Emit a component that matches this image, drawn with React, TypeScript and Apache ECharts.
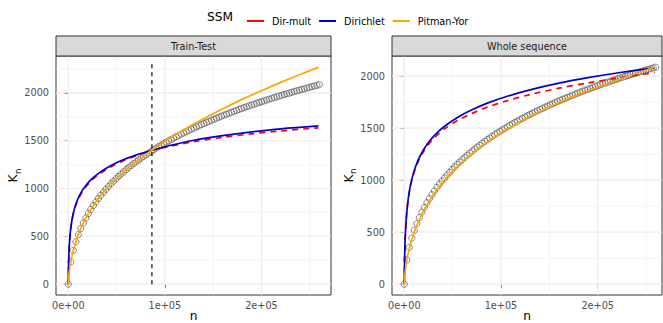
import React, { useEffect, useRef } from "react";
import * as echarts from "echarts";

const FONT = "DejaVu Sans";

// Observed K_n (circles)
const obsN = [
  0, 2600, 5200, 7800, 10400, 13000, 15600, 18200, 20800, 23400, 26000, 28600, 31200, 33800, 36400, 39000, 41600,
  44200, 46800, 49400, 52000, 54600, 57200, 59800, 62400, 65000, 67600, 70200, 72800, 75400, 78000, 80600, 83200,
  85800, 88400, 91000, 93600, 96200, 98800, 101400, 104000, 106600, 109200, 111800, 114400, 117000, 119600, 122200,
  124800, 127400, 130000, 132600, 135200, 137800, 140400, 143000, 145600, 148200, 150800, 153400, 156000, 158600,
  161200, 163800, 166400, 169000, 171600, 174200, 176800, 179400, 182000, 184600, 187200, 189800, 192400, 195000,
  197600, 200200, 202800, 205400, 208000, 210600, 213200, 215800, 218400, 221000, 223600, 226200, 228800, 231400,
  234000, 236600, 239200, 241800, 244400, 247000, 249600, 252200, 254800, 257400, 260000,
];
const obsK = [
  0, 233, 353, 443, 518, 583, 640, 691, 738, 782, 822, 860, 896, 930, 962, 992, 1021, 1049, 1076, 1102, 1127, 1151,
  1174, 1196, 1218, 1239, 1260, 1279, 1299, 1318, 1336, 1354, 1371, 1389, 1405, 1422, 1438, 1453, 1469, 1484, 1498,
  1513, 1527, 1541, 1555, 1568, 1581, 1594, 1607, 1620, 1632, 1644, 1656, 1668, 1680, 1691, 1702, 1713, 1724, 1735,
  1746, 1757, 1767, 1777, 1787, 1797, 1807, 1817, 1827, 1836, 1846, 1855, 1864, 1873, 1882, 1891, 1900, 1908, 1917,
  1926, 1934, 1942, 1951, 1959, 1967, 1975, 1983, 1991, 1998, 2006, 2014, 2021, 2029, 2036, 2043, 2051, 2058, 2065,
  2072, 2079, 2086,
];

// Dirichlet / Dir-mult curves
const dirN = [0, 200, 500, 1000, 2000, 3500, 5500, 8000, 12000, 17000, 24000, 32000, 42000, 55000, 70000, 86600, 105000, 130000, 160000, 190000, 220000, 259000];
const dirichletTrain = [0, 145, 269, 392, 532, 654, 755, 841, 935, 1016, 1097, 1164, 1228, 1292, 1349, 1400, 1450, 1505, 1553, 1592, 1624, 1654];
const dirmultTrain = [0, 145, 268, 389, 527, 646, 745, 829, 921, 1002, 1083, 1150, 1215, 1281, 1341, 1398, 1440, 1490, 1535, 1572, 1603, 1635];
const dirichletWhole = [0, 154, 297, 446, 621, 776, 907, 1017, 1139, 1244, 1349, 1437, 1520, 1603, 1677, 1743, 1802, 1868, 1932, 1985, 2030, 2080];
const dirmultWhole = [0, 154, 296, 444, 617, 770, 899, 1006, 1125, 1228, 1330, 1415, 1496, 1573, 1642, 1704, 1760, 1823, 1884, 1935, 1980, 2035];

// Pitman-Yor curves
const pyTrainN = [0, 500, 1300, 2600, 5200, 10400, 15600, 20800, 31200, 41600, 52000, 65000, 78000, 86600, 100000, 120000, 140000, 160000, 180000, 200000, 220000, 240000, 259000];
const pyTrain = [0, 77, 150, 233, 353, 518, 640, 738, 896, 1021, 1127, 1239, 1336, 1400, 1491, 1616, 1729, 1834, 1932, 2023, 2110, 2192, 2267];
const pyWholeN = [0, 500, 1300, 2600, 5200, 10400, 15600, 20800, 31200, 41600, 52000, 65000, 78000, 91000, 104000, 130000, 156000, 182000, 208000, 234000, 259000];
const pyWhole = [0, 75, 146, 226, 343, 503, 622, 718, 874, 998, 1103, 1214, 1311, 1398, 1477, 1614, 1730, 1832, 1922, 2008, 2086];

// Train/test split
const splitN = 86600;
const splitTop = 2330;

// Ticks
const xTickValues = [0, 100000, 200000];
const xTickLabels = ["0e+00", "1e+05", "2e+05"];
const xMinor = [50000, 150000, 250000];
const yTickValues = [0, 500, 1000, 1500, 2000];
const yTickLabels = ["0", "500", "1000", "1500", "2000"];
const yMinor = [250, 750, 1250, 1750, 2250];

const seriesNames = ["Dir-mult", "Dirichlet", "Pitman-Yor"];
const COLORS = { "Dir-mult": "#FF0000", Dirichlet: "#0000CD", "Pitman-Yor": "#FFA500" };

const panels = [
  { title: "Train-Test", left: 56, right: 332, xMin: -12720, xMax: 272000, yMin: -113.6, yMax: 2385.6 },
  { title: "Whole sequence", left: 392, right: 1, xMin: -12680, xMax: 266500, yMin: -104.5, yMax: 2193.5 },
];

const zip = (a: number[], b: number[]) => a.map((v, i) => [v, b[i]]);

function buildOption() {
  const grid: any[] = [];
  const xAxis: any[] = [];
  const yAxis: any[] = [];
  const series: any[] = [];
  const graphic: any[] = [];

  panels.forEach((p, gi) => {
    grid.push({
      left: p.left,
      right: p.right,
      top: 56,
      bottom: 28,
      show: true,
      backgroundColor: "#FFFFFF",
      borderColor: "#333333",
      borderWidth: 1,
    });
    xAxis.push({
      type: "value",
      gridIndex: gi,
      min: p.xMin,
      max: p.xMax,
      axisLine: { show: false },
      axisTick: { show: true, length: 3.6, lineStyle: { color: "#333333", width: 1 }, customValues: xTickValues },
      axisLabel: {
        customValues: xTickValues,
        formatter: (v: number) => xTickLabels[xTickValues.indexOf(v)] ?? "",
        color: "#4D4D4D",
        fontSize: 9.7,
        fontFamily: FONT,
        margin: 5,
      },
      splitLine: { show: false },
    });
    yAxis.push({
      type: "value",
      gridIndex: gi,
      min: p.yMin,
      max: p.yMax,
      axisLine: { show: false },
      axisTick: { show: true, length: 3.6, lineStyle: { color: "#333333", width: 1 }, customValues: yTickValues },
      axisLabel: {
        customValues: yTickValues,
        formatter: (v: number) => yTickLabels[yTickValues.indexOf(v)] ?? "",
        color: "#4D4D4D",
        fontSize: 9.7,
        fontFamily: FONT,
        margin: 7,
      },
      splitLine: { show: false },
    });

    // grid lines
    const yTop = p.yMax;
    const yBot = p.yMin;
    const gl = (data: number[][], w: number) => ({
      type: "line",
      xAxisIndex: gi,
      yAxisIndex: gi,
      data,
      symbol: "none",
      silent: true,
      z: 1,
      lineStyle: { color: "#EBEBEB", width: w },
    });
    xTickValues.forEach((v) => series.push(gl([[v, yBot], [v, yTop]], 1.1)));
    xMinor.forEach((v) => series.push(gl([[v, yBot], [v, yTop]], 0.55)));
    yTickValues.forEach((v) => series.push(gl([[p.xMin, v], [p.xMax, v]], 1.1)));
    yMinor.filter((v) => v < p.yMax).forEach((v) => series.push(gl([[p.xMin, v], [p.xMax, v]], 0.55)));

    // observed
    series.push({
      type: "scatter",
      xAxisIndex: gi,
      yAxisIndex: gi,
      data: zip(obsN, obsK),
      symbol: "circle",
      symbolSize: 6.2,
      silent: true,
      z: 2,
      itemStyle: { color: "rgba(255,255,255,0)", borderColor: "#474747", borderWidth: 0.8 },
    });

    if (gi === 0) {
      series.push({
        type: "line",
        xAxisIndex: gi,
        yAxisIndex: gi,
        data: [[splitN, 0], [splitN, splitTop]],
        symbol: "none",
        silent: true,
        z: 3,
        lineStyle: { color: "#000000", width: 1.2, type: [4, 4] },
      });
    }

    const dm = gi === 0 ? dirmultTrain : dirmultWhole;
    const di = gi === 0 ? dirichletTrain : dirichletWhole;
    const pyN = gi === 0 ? pyTrainN : pyWholeN;
    const py = gi === 0 ? pyTrain : pyWhole;
    const lineS = (name: string, data: number[][], z: number, dashed: boolean) => ({
      type: "line",
      name,
      xAxisIndex: gi,
      yAxisIndex: gi,
      data,
      symbol: "none",
      showSymbol: false,
      smooth: 0.3,
      silent: true,
      z,
      color: (COLORS as any)[name],
      lineStyle: { color: (COLORS as any)[name], width: 1.7, type: dashed ? [6, 5] : "solid" },
    });
    series.push(lineS("Dir-mult", zip(dirN, dm), 4, true));
    series.push(lineS("Dirichlet", zip(dirN, di), 5, false));
    series.push(lineS("Pitman-Yor", zip(pyN, py), 6, false));

    // strip
    const stripRight = 663 - p.right;
    graphic.push({
      type: "rect",
      shape: { x: p.left, y: 36, width: stripRight - p.left, height: 20 },
      style: { fill: "#D9D9D9", stroke: "#333333", lineWidth: 1 },
      z: 100,
    });
    graphic.push({
      type: "text",
      x: (p.left + stripRight) / 2,
      y: 46.5,
      style: { text: p.title, fontSize: 9.7, fontFamily: FONT, fill: "#1A1A1A", align: "center", verticalAlign: "middle" },
      z: 101,
    });
    // x title
    graphic.push({
      type: "text",
      x: (p.left + stripRight) / 2,
      y: 315.5,
      style: { text: "n", fontSize: 12.2, fontFamily: FONT, fill: "#000000", align: "center", verticalAlign: "middle" },
      z: 101,
    });
    // y title K_n
    graphic.push({
      type: "group",
      x: gi === 0 ? 13.3 : 348.5,
      y: 175.5,
      rotation: Math.PI / 2,
      z: 101,
      children: [
        {
          type: "text",
          x: -3,
          y: 0,
          style: { text: "K", fontSize: 12.2, fontFamily: FONT, fill: "#000000", align: "center", verticalAlign: "middle" },
        },
        {
          type: "text",
          x: 4.2,
          y: 4.5,
          style: { text: "n", fontSize: 8.6, fontFamily: FONT, fill: "#000000", align: "center", verticalAlign: "middle" },
        },
      ],
    });
  });

  graphic.push({
    type: "text",
    x: 207,
    y: 17,
    style: { text: "SSM", fontSize: 12.2, fontFamily: FONT, fill: "#000000", align: "left", verticalAlign: "middle" },
    z: 101,
  });

  return {
    animation: false,
    backgroundColor: "#FFFFFF",
    textStyle: { fontFamily: FONT },
    legend: {
      data: seriesNames,
      left: 242,
      top: 11,
      icon: "rect",
      itemWidth: 17,
      itemHeight: 2,
      itemGap: 8,
      selectedMode: false,
      textStyle: { fontSize: 9.7, fontFamily: FONT, color: "#000000", padding: [0, 0, 0, 3] },
    },
    grid,
    xAxis,
    yAxis,
    series,
    graphic,
  };
}

export default function App() {
  const ref = useRef<HTMLDivElement>(null);
  useEffect(() => {
    if (!ref.current) return;
    const chart = echarts.init(ref.current, null, { renderer: "svg" });
    chart.setOption(buildOption() as any);
    return () => chart.dispose();
  }, []);
  return <div ref={ref} style={{ position: "absolute", left: 0, top: 0, width: 663, height: 323 }} />;
}
